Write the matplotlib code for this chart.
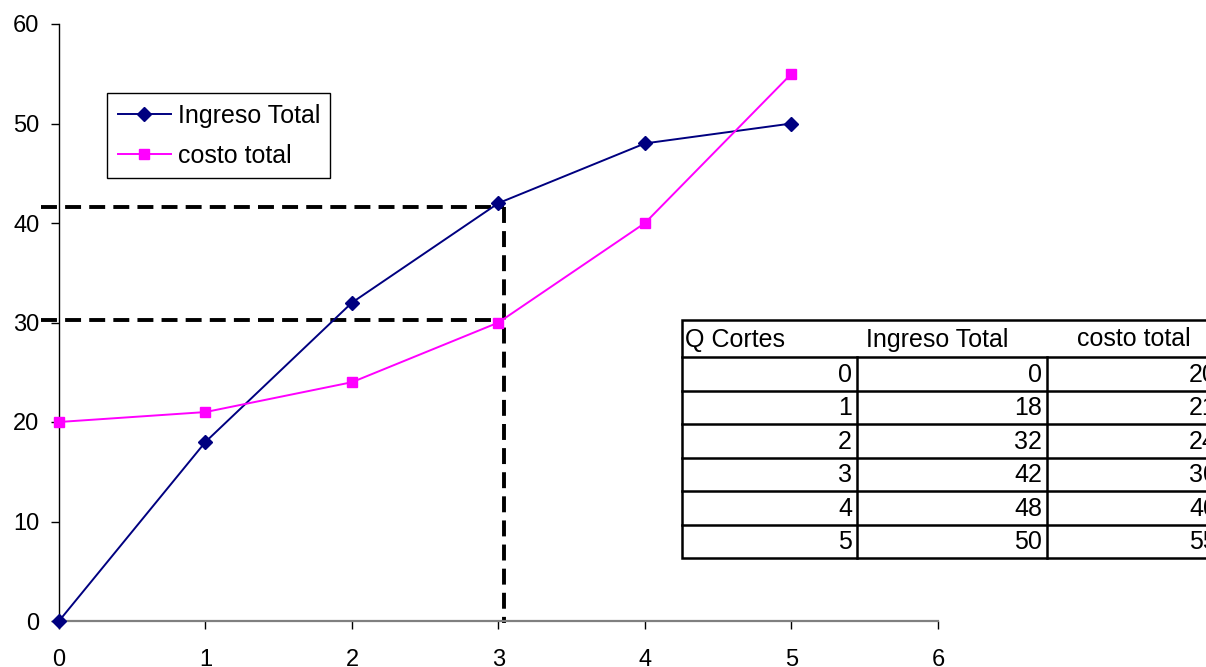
import matplotlib.pyplot as plt
from matplotlib.lines import Line2D

plt.rcParams['font.family'] = ['Liberation Sans', 'DejaVu Sans']

# Data
q_cortes = [0, 1, 2, 3, 4, 5]
ingreso_total = [0, 18, 32, 42, 48, 50]
costo_total = [20, 21, 24, 30, 40, 55]

# guide lines
q_guide = 3.04
y_guide_hi = 41.6
y_guide_lo = 30.3

fig = plt.figure(figsize=(12.06, 6.67), dpi=100)
ax = fig.add_axes([59 / 1206, 46 / 667, 879 / 1206, 597 / 667])

ax.plot(q_cortes, ingreso_total, color='#000080', lw=1.4, marker='D',
        markersize=7.5, label='Ingreso Total', clip_on=False, zorder=3)
ax.plot(q_cortes, costo_total, color='#FF00FF', lw=1.4, marker='s',
        markersize=7.5, label='costo total', clip_on=False, zorder=3)

dash = dict(color='black', lw=2.8, dashes=(4.1, 2.1), clip_on=False, zorder=2)
ax.plot([-0.12, q_guide], [y_guide_hi, y_guide_hi], **dash)
ax.plot([-0.12, q_guide], [y_guide_lo, y_guide_lo], **dash)
ax.plot([q_guide, q_guide], [y_guide_hi, -0.2], **dash)

ax.set_xlim(0, 6)
ax.set_ylim(0, 60)
ax.set_xticks(range(0, 7))
ax.set_yticks(range(0, 61, 10))
ax.spines['top'].set_visible(False)
ax.spines['right'].set_visible(False)
ax.spines['left'].set_linewidth(1)
ax.spines['bottom'].set_color('#808080')
ax.spines['bottom'].set_linewidth(1.6)
ax.tick_params(axis='both', direction='out', length=6, width=1, labelsize=17)
ax.tick_params(axis='x', pad=14)
ax.tick_params(axis='y', pad=8)

leg = ax.legend(loc='upper left', bbox_to_anchor=((107 - 59) / 879, (621 - 93) / 597),
                borderaxespad=0, fancybox=False, edgecolor='black', framealpha=1,
                fontsize=18, handlelength=2.15, handletextpad=0.25, labelspacing=0.65,
                borderpad=0.42)
leg.get_frame().set_linewidth(1)

# data table in pixel space
tab = fig.add_axes([0, 0, 1, 1], zorder=5)
tab.set_xlim(0, 1206)
tab.set_ylim(667, 0)
tab.axis('off')
tab.patch.set_alpha(0)

col_edges = [682, 857, 1047, 1222]
top, head_h, row_h = 320, 37, 33.5
n_rows = len(q_cortes)
bottom = top + head_h + n_rows * row_h
fs = 18

tab.add_patch(plt.Rectangle((col_edges[0], top), col_edges[-1] - col_edges[0],
                            bottom - top, fill=True, facecolor='white',
                            edgecolor='black', lw=1.8))
for i in range(n_rows):
    y = top + head_h + i * row_h
    tab.add_line(Line2D([col_edges[0], col_edges[-1]], [y, y], color='black', lw=1.8))
for x in col_edges[1:-1]:
    tab.add_line(Line2D([x, x], [top + head_h, bottom], color='black', lw=1.8))

headers = ['Q Cortes', 'Ingreso Total', 'costo total']
hy = top + head_h / 2 + 1
tab.text(col_edges[0] + 3, hy, headers[0], ha='left', va='center', fontsize=fs)
tab.text(937, hy, headers[1], ha='center', va='center', fontsize=fs)
tab.text(1134, hy, headers[2], ha='center', va='center', fontsize=fs)

for i, row in enumerate(zip(q_cortes, ingreso_total, costo_total)):
    y = top + head_h + (i + 0.5) * row_h + 1
    for j, v in enumerate(row):
        tab.text(col_edges[j + 1] - 5, y, str(v), ha='right', va='center', fontsize=fs)

fig.savefig('out.png', dpi=100)
